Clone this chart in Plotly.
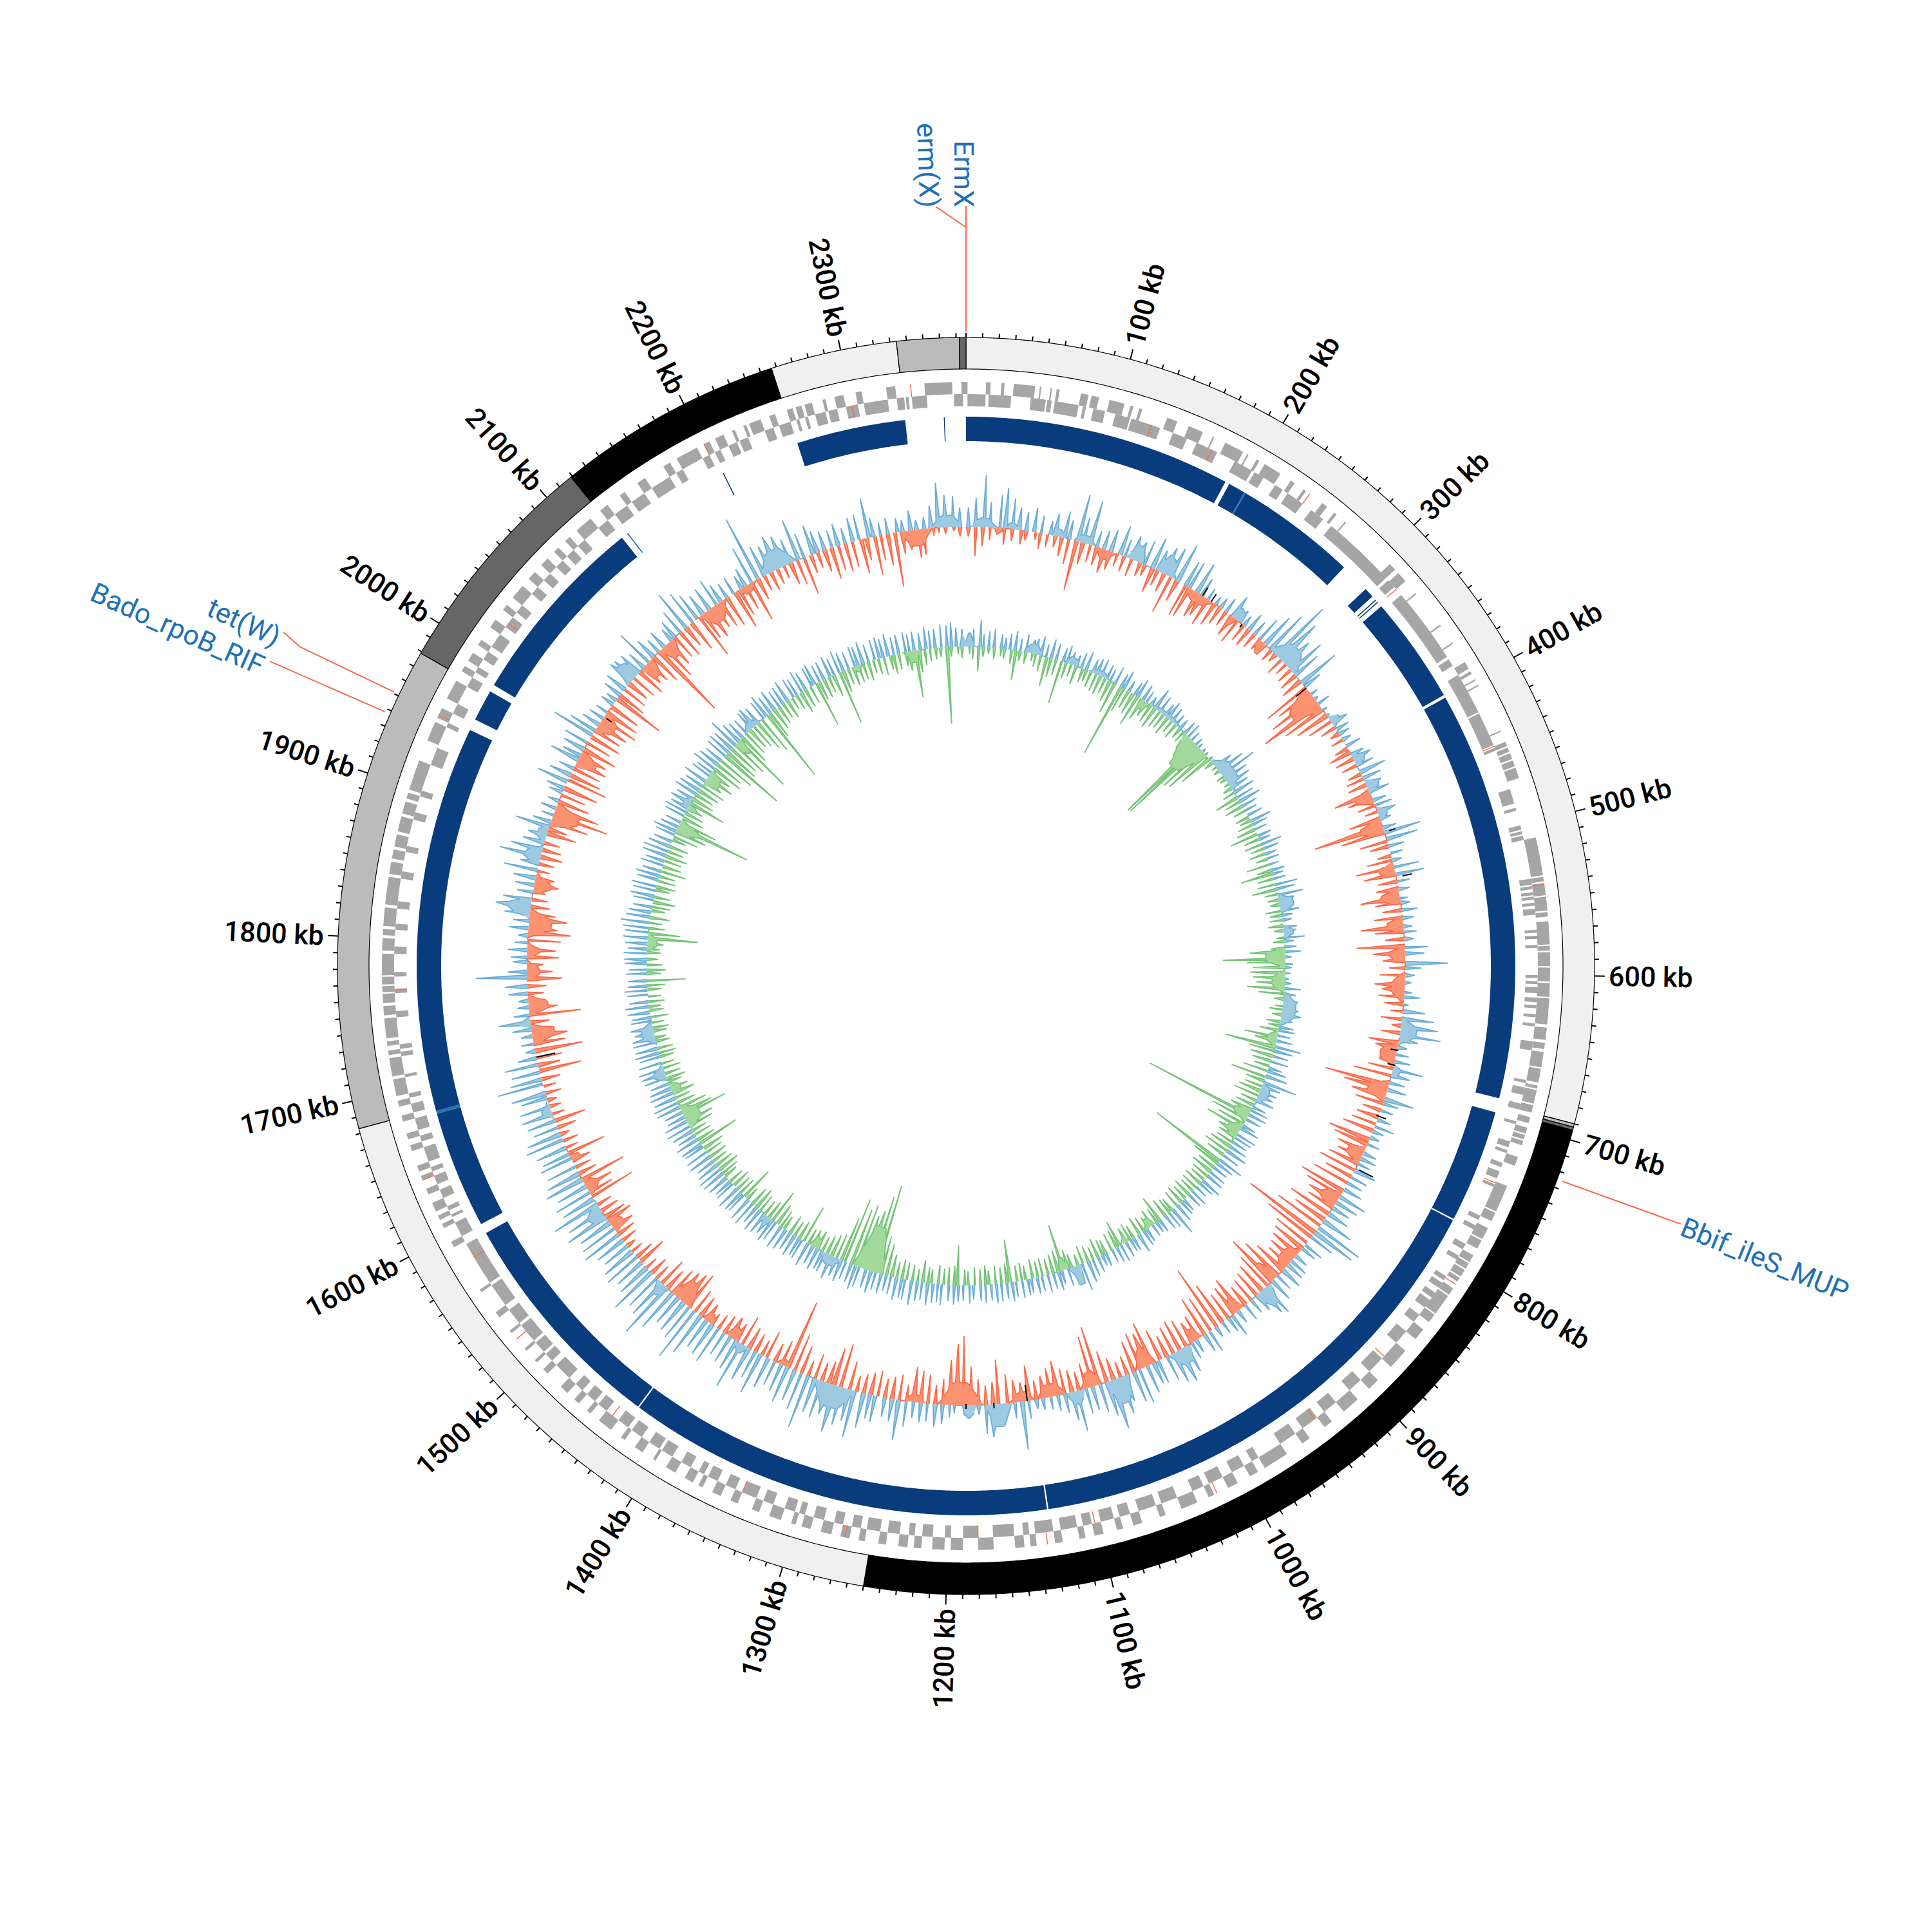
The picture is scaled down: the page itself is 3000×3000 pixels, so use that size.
import math
import plotly.graph_objects as go

GENOME_KB = 2376
BIN_KB = 6.25

# ideogram bands: start kb, end kb, colour
band_start = [0, 690, 692, 694, 1250, 1683, 1979, 2119, 2257, 2334, 2372]
band_end = [690, 692, 694, 1250, 1683, 1979, 2119, 2257, 2334, 2372, 2376]
band_color = ["#f0f0f0", "#bbbbbb", "#666666", "#000000", "#f0f0f0", "#bbbbbb", "#666666", "#000000", "#f0f0f0", "#bbbbbb", "#666666"]

tick_kb = list(range(0, GENOME_KB, 10))
label_kb = list(range(100, 2400, 100))

# conserved segments (dark blue ring)
seg_start = [0, 189, 202, 308, 318, 320, 324, 401, 696, 776, 1132, 1430, 1597, 1681, 1958, 1985, 2202.6, 2258, 2360.7]
seg_end = [186, 201, 287, 315, 318.7, 320.7, 399, 686, 775, 1131, 1429, 1590, 1679, 1950, 1980, 2120, 2203.3, 2334, 2361.3]
seg_thin_start = [2124.5, 201, 1679]
seg_thin_end = [2125.3, 202, 1681]

genes_outer = [(0,1),(13,16),(23,25),(31,45),(48,49),(55,56),(59,61),(75,80),(82,87),(94,104),(108,110),(114,116),(133,140),(148,158),(165,166),(174,187),(190,191),(197,199),(203,215),(223,226),(233,235),(248,252),(258,260),(267,268),(307,312),(315,322),(332,333),(358,359),(372,373),(387,392),(394,396),(400,401),(404,405),(437,438),(445,448),(449,452),(453,457),(458,462),(463,470),
 (510,535),(536,539),(540,548),(549,558),(559,562),(565,580),(581,584),(585,594),(595,604),(605,614),(615,632),(634,636),(636,642),(644,648),(650,660),(661,670),(672,674),(675,684),(685,690),(693,695),(695,697),(700,704),(705,708),(709,712),(720,726),(740,750),(750,758),(759,765),(770,778),(779,785),(790,795),(796,800),(801,806),(807,810),(815,820),(821,835),
 (836,842),(848,856),(866,880),(892,900),(910,922),(932,938),(950,956),(968,985),(990,996),(1005,1012),(1022,1026),(1034,1045),(1056,1060),(1072,1078),(1085,1089),(1098,1104),(1110,1114),(1125,1130),(1142,1146),(1150,1156),(1170,1180),(1190,1198),(1202,1210),(1217,1222),(1226,1232),(1240,1245),
 (1254,1258),(1264,1270),(1276,1283),(1290,1296),(1300,1303),(1310,1318),(1325,1330),(1340,1345),(1352,1358),(1365,1368),(1372,1378),(1385,1392),(1400,1402),(1410,1416),(1424,1427),(1435,1445),(1452,1455),(1462,1466),(1472,1478),(1490,1494),(1500,1502),(1510,1512),(1525,1527),(1538,1542),(1558,1560),(1592,1596),
 (1606,1609),(1612,1615),(1618,1624),(1630,1634),(1640,1643),(1646,1650),(1660,1664),(1668,1672),(1680,1684),(1690,1694),(1697,1700),
 (1700,1708),(1710,1722),(1724,1727),(1730,1733),(1735,1748),(1750,1756),(1758,1764),(1765,1769),(1770,1775),(1776,1790),(1792,1800),(1802,1806),(1808,1820),(1822,1840),(1842,1850),(1852,1858),(1860,1868),(1870,1880),(1882,1890),(1892,1896),(1898,1918),(1932,1945),
 (1948,1955),(1962,1975),(1982,1986),(1990,1996),(2002,2006),(2016,2022),(2030,2034),(2040,2050),(2056,2062),(2068,2074),(2080,2084),(2090,2094),(2100,2112),(2120,2126),(2136,2140),(2150,2156),(2170,2175),(2180,2195),(2200,2204),(2208,2214),(2220,2222),(2228,2230),(2232,2240),(2246,2250),(2258,2262),(2264,2268),(2270,2275),(2282,2284),(2290,2296),(2304,2308),(2324,2330),(2349,2367),(2373,2376)]

genes_inner = [(1,13),(15,30),(43,53),(54,57),(59,75),(78,80),(85,93),(100,110),(111,131),(140,150),(157,172),(185,198),(200,207),(216,222),(226,238),(245,255),(262,312),(314,320),(327,378),(380,385),(392,400),(400,420),(421,442),(442,444),(446,448),(475,485),(488,490),(500,503),(504,506),(507,510),(536,540),(541,543),(545,547),(548,550),(552,554),(556,560),(570,572),(574,576),(580,582),(600,602),(604,606),(608,612),(615,618),(620,622),(626,628),(632,634),(644,650),(670,672),(675,680),(686,690),(698,700),(712,716),(718,720),(727,730),(733,738),(742,744),(765,768),(772,775),(786,790),(795,798),(811,814),(816,820),(824,828),(830,836),
 (842,848),(856,866),(880,892),(900,910),(922,932),(938,950),(956,968),(985,990),(996,1005),(1012,1022),(1026,1034),(1045,1056),(1060,1072),(1078,1085),(1089,1098),(1104,1110),(1114,1125),(1130,1142),(1146,1150),(1156,1170),(1180,1190),(1198,1202),(1210,1217),(1222,1226),(1232,1240),(1245,1254),
 (1258,1264),(1270,1276),(1283,1290),(1296,1300),(1303,1310),(1318,1325),(1330,1340),(1345,1352),(1358,1365),(1368,1372),(1378,1385),(1392,1400),(1402,1410),(1416,1424),(1427,1435),(1445,1452),(1455,1462),(1466,1472),(1478,1490),(1494,1500),(1502,1510),(1512,1525),(1527,1538),(1542,1558),(1560,1590),(1596,1604),
 (1604,1606),(1610,1612),(1615,1618),(1624,1630),(1634,1640),(1643,1646),(1650,1660),(1664,1668),(1672,1680),(1684,1690),(1694,1697),(1708,1710),(1722,1725),(1727,1730),(1748,1752),(1764,1767),(1775,1778),(1790,1795),(1806,1810),(1820,1825),(1840,1845),(1858,1862),(1880,1885),(1896,1900),(1918,1930),
 (1945,1948),(1955,1962),(1975,1982),(1986,1990),(1996,2002),(2006,2016),(2022,2030),(2034,2040),(2050,2056),(2062,2068),(2074,2080),(2084,2090),(2094,2100),(2112,2120),(2126,2136),(2140,2150),(2156,2170),(2175,2180),(2195,2200),(2204,2208),(2214,2220),(2222,2228),(2240,2246),(2250,2258),(2262,2264),(2268,2270),(2275,2282),(2284,2290),(2296,2304),(2308,2324),(2330,2335),(2336,2338),(2340,2350),(2368,2374)]

gene_red_kb = [125, 168, 238, 322, 445, 541, 575, 741, 812, 878, 940, 1020, 1102, 1135, 1180, 1267, 1340, 1440, 1520, 1580, 1640, 1766, 1950, 2025, 2200, 2300, 2340]
gene_red_lane = [1, 1, 0, 1, 1, 0, 1, 1, 0, 1, 1, 0, 1, 0, 1, 0, 1, 1, 0, 1, 0, 1, 0, 1, 0, 1, 0]

# skew track, spike heights per 6.25 kb bin (24 rows of 100 kb)
skew_out = [
30,45,81,40,52,63,48,35,30,38,28,22,35,42,30,74,
40,70,25,30,35,47,28,38,33,40,51,35,45,50,63,42,
45,51,30,20,14,18,25,38,22,18,30,25,40,55,70,101,
75,50,61,45,67,30,12,6,20,8,5,27,22,18,15,25,
22,30,28,43,30,25,33,22,28,30,18,22,58,50,25,20,
15,40,45,20,18,12,15,25,18,14,20,15,36,30,67,25,
15,10,12,25,8,35,50,58,64,30,15,20,25,48,30,25,
30,47,25,20,22,32,18,15,20,22,26,20,35,28,25,30,
46,38,30,35,51,77,71,40,32,25,22,29,30,35,28,38,
52,45,30,25,28,22,37,25,20,18,36,30,22,28,45,55,
50,40,37,35,45,56,50,42,60,79,55,45,38,40,64,45,
30,25,20,18,15,28,75,25,18,22,51,45,15,12,10,12,
20,30,35,28,30,25,40,63,35,30,42,38,55,74,50,60,
75,50,60,55,85,60,50,58,45,40,50,66,45,55,76,50,
45,40,60,55,50,70,88,60,55,50,70,93,65,60,78,55,
50,60,55,45,50,65,60,55,70,60,78,55,60,50,63,55,
48,52,45,50,61,55,40,45,50,48,42,55,72,50,45,53,
30,15,20,18,30,50,25,18,15,30,35,79,30,22,25,30,
20,15,30,25,40,55,45,25,30,35,53,30,65,50,35,30,
54,30,20,25,18,22,30,50,35,25,47,30,35,40,69,45,
30,25,20,22,18,30,35,42,40,38,30,60,35,25,30,22,
30,40,65,56,45,35,38,44,30,25,28,22,30,60,105,50,
45,55,50,40,66,40,47,35,30,28,35,25,38,40,62,30,
20,25,22,18,31,15,18,35,70,50,48,30]

skew_in = [
15,45,30,20,10,25,18,22,15,12,25,20,18,30,40,78,
35,28,30,38,30,20,25,28,22,18,39,25,30,60,35,52,
50,42,35,45,38,30,25,35,40,28,30,25,20,18,21,15,
28,20,25,30,35,76,60,80,103,70,55,40,25,15,20,22,
35,30,25,22,28,30,59,40,28,20,50,111,70,44,30,22,
40,60,50,30,35,62,40,30,45,67,45,30,75,50,35,25,
40,47,35,40,30,20,33,15,30,47,35,20,25,40,60,102,
70,55,45,30,35,40,50,67,55,45,40,50,60,45,60,74,
60,50,45,70,55,80,126,85,60,55,50,45,40,55,70,86,
60,50,45,40,35,58,50,45,70,105,60,65,40,35,45,50,
45,35,50,69,55,60,50,30,25,35,50,93,80,40,30,35,
40,55,45,35,30,55,30,35,45,69,35,30,40,60,108,95,
70,40,30,45,50,55,25,40,35,30,40,35,30,25,45,69,
59,35,30,40,25,45,60,110,40,30,44,25,30,35,48,30,
35,30,25,20,30,35,40,61,55,50,45,35,45,25,30,20,
46,30,20,15,25,30,35,42,35,30,25,72,40,45,73,30,
25,30,61,20,25,15,30,50,20,18,15,25,20,30,66,35,
40,75,50,55,35,30,80,45,20,25,30,55,40,25,50,45,
52,67,45,59,40,30,25,20,38,30,20,25,35,30,25,47,
30,60,88,70,50,40,55,64,50,45,50,45,55,40,50,45,
50,60,55,50,82,45,40,35,40,46,35,40,50,123,60,45,
40,45,35,50,72,45,50,40,45,50,62,45,40,65,35,25,
30,25,20,35,40,60,30,25,35,50,40,45,40,54,35,61,
40,50,85,35,30,44,40,12,8,10,6,15]

gc_out = [
22,28,42,20,25,30,22,18,25,30,20,28,22,25,30,20,
30,25,22,28,20,18,25,30,22,26,28,24,20,28,22,30,
18,22,30,26,20,15,35,28,22,30,25,20,18,22,24,16,
12,8,6,5,6,5,30,45,60,40,38,30,35,28,35,25,
20,25,34,25,20,22,18,33,25,18,20,16,22,18,20,36,
30,41,25,22,29,18,15,22,20,32,15,18,25,10,12,10,
8,6,10,25,18,22,20,25,30,18,22,25,20,25,41,30,
25,28,22,30,35,54,30,28,25,30,22,28,30,25,22,30,
32,28,25,30,35,28,41,30,25,28,30,34,25,20,28,25,
22,25,30,46,28,25,22,18,20,22,25,31,22,20,25,28,
25,20,22,18,25,28,35,44,30,25,28,22,30,25,28,24,
26,22,25,28,24,30,25,28,30,25,28,25,22,28,24,26,
30,25,32,28,30,35,28,30,38,32,30,35,28,25,30,28,
35,30,32,38,30,28,35,30,38,32,30,35,30,38,32,30,
35,30,35,38,32,38,30,35,38,30,40,38,32,35,38,32,
30,35,38,40,35,30,38,36,32,35,38,30,35,40,38,30,
30,38,40,35,38,35,30,36,38,40,36,32,38,35,36,35,
30,35,32,30,35,38,30,32,36,30,30,32,28,34,35,36,
30,35,38,36,40,45,38,35,30,32,38,36,40,34,38,30,
36,30,38,40,35,30,32,38,30,25,32,36,30,35,30,38,
35,30,38,32,28,40,35,30,36,38,35,50,35,30,28,32,
35,30,32,38,30,35,28,30,35,32,28,36,30,32,35,28,
30,34,28,36,30,28,32,30,35,28,32,34,30,35,28,30,
32,28,30,26,34,28,30,36,34,38,30,28]

gc_in = [
12,20,38,15,10,18,12,15,22,46,15,18,12,20,25,46,
30,25,68,25,20,30,22,18,25,28,30,25,35,50,117,40,
30,35,50,35,25,30,35,28,25,30,20,25,18,20,25,15,
147,145,80,75,55,15,8,10,12,10,8,15,20,38,25,30,
20,22,18,25,30,45,25,28,20,25,18,36,22,50,25,28,
38,20,18,15,24,18,20,23,15,12,18,22,55,97,60,50,
55,50,45,58,40,15,12,20,15,22,18,30,52,35,79,40,
35,30,25,40,56,30,28,35,40,25,30,35,173,60,45,60,
35,30,28,35,40,30,122,45,30,35,28,25,30,28,25,30,
25,30,28,22,25,30,42,25,28,20,25,30,22,28,25,42,
30,28,22,25,30,20,25,28,18,22,30,73,35,30,25,28,
25,30,22,28,25,67,30,25,28,22,30,25,28,22,25,62,
30,28,25,30,22,25,35,20,25,28,30,25,35,50,60,140,
120,95,85,100,90,104,70,40,35,30,25,30,28,25,60,30,
25,30,22,28,35,53,30,25,28,35,30,22,53,28,25,30,
25,22,28,35,30,25,30,28,35,66,30,28,25,40,45,72,
50,45,30,25,35,28,22,30,25,28,20,22,28,25,22,18,
22,25,20,28,22,18,25,20,22,28,60,22,30,25,18,22,
20,25,78,50,25,20,30,22,28,35,25,22,30,28,25,40,
30,28,35,25,30,22,40,50,118,60,35,30,25,58,35,30,
35,40,30,45,35,50,45,60,106,55,50,60,96,50,40,35,
40,50,60,117,45,35,30,25,30,20,25,35,30,28,72,30,
30,25,35,84,35,25,30,28,25,30,20,25,28,22,30,25,
22,30,74,35,25,20,18,15,119,15,12,18]

# shaded plateaus: (start kb, end kb, thickness)
skew_out_bands = [(2347,2372,18),(5,25,14),(35,45,10),(75,85,12),(95,112,12),(143,157,25),(170,185,30),(245,255,20),(290,320,30),(366,375,15),(405,415,18),(430,440,20),(455,465,15),(640,660,25),(680,690,12),(900,915,30),(985,1005,25),(1045,1065,40),(1085,1100,20),(1150,1170,35),(1180,1190,20),(1285,1320,35),(1385,1395,15),(1470,1480,20),(1550,1565,25),(1650,1660,15),(1730,1735,20),(1825,1840,35),(1870,1885,25),(1890,1905,15),(2045,2060,30),(2195,2225,30)]
skew_in_bands = [(25,32,8),(115,130,15),(200,225,15),(244,250,15),(277,285,20),(335,358,45),(438,450,25),(465,478,35),(505,515,25),(528,540,30),(552,565,25),(578,590,25),(600,625,20),(662,680,25),(695,712,30),(755,770,25),(800,815,30),(860,885,20),(890,898,35),(930,940,25),(975,985,20),(1020,1035,30),(1070,1085,25),(1102,1125,20),(1130,1148,15),(1175,1210,35),(1225,1240,12),(1345,1355,10),(1395,1405,20),(1420,1430,15),(1445,1465,35),(1535,1550,20),(1575,1590,20),(1608,1614,15),(1715,1730,35),(1740,1755,30),(1770,1785,20),(1790,1800,20),(1808,1830,35),(1845,1860,25),(1905,1925,40),(1960,1975,30),(1995,2015,25),(2062,2075,25),(2085,2100,25),(2130,2155,25),(2170,2185,12),(2320,2345,25)]
gc_out_bands = [(2370,2376,20),(0,8,20),(70,90,15),(120,135,12),(150,175,8),(230,280,6),(330,375,20),(510,530,22),(548,560,15),(625,665,20),(735,760,15),(1050,1060,30),(1340,1365,15),(1435,1445,15),(1645,1660,18),(1690,1715,18),(1975,1990,12),(2090,2110,12)]
gc_in_bands = [(220,230,15),(286,323,50),(572,595,30),(600,625,20),(672,690,15),(770,785,25),(790,810,20),(950,960,15),(985,992,12),(1065,1075,20),(1288,1324,70),(1370,1380,18),(1580,1610,25),(1625,1640,15),(1800,1820,15),(1945,1960,35),(1975,1982,15),(2010,2030,22),(2070,2080,25),(2240,2248,10),(2305,2320,18)]

# short black marks in the skew track (kb, inward offset, outward offset)
mark_kb = [215,224,257,335,477,517,667,680,726,775,1135,1703,2010,1164,1188]
mark_in = [0,0,6,20,-18,-25,10,10,4,-6,25,30,4,2,2]
mark_out = [15,14,0,0,8,10,2,2,12,30,0,0,-14,6,6]

# resistance genes
res_names = ["ErmX", "erm(X)", "Bbif_ileS_MUP", "tet(W)", "Bado_rpoB_RIF"]
res_kb = [2376, 2376, 725, 1951, 1938]
res_end_kb = [2376, 2361, 725, 1954, 1938]
res_label_kb = [2375, 2358, 727, 1950, 1935]
res_label_r = [1230, 1245, 1321, 1242, 1332]
res_label_angle = [90, 88, 22, 25, 24]

# radii, pixels
R_IDEO_OUT, R_IDEO_IN = 976, 927
R_G0, R_G1, R_G2 = 907, 888, 869
R_B0, R_B1 = 853, 815
SKEW_BASE, GC_BASE = 682, 496
R_MAX = 1500
CX, CY = 1500, 1500
W = 3000


def th(k):
    return k * 360.0 / GENOME_KB


def sector(k0, k1, r0, r1):
    n = max(1, int(abs(k1 - k0) / 2))
    ks = [k0 + (k1 - k0) * i / n for i in range(n + 1)]
    t = [th(k) for k in ks]
    return t + t[::-1] + [t[0]], [r1] * (n + 1) + [r0] * (n + 1) + [r1]


def add_sectors(fig, items, r0, r1, color, line=0.0):
    T, R = [], []
    for a, b in items:
        t, r = sector(a, b, r0, r1)
        T += t + [None]
        R += r + [None]
    fig.add_trace(go.Scatterpolar(theta=T, r=R, mode="lines", fill="toself", fillcolor=color,
                                  line=dict(color=color, width=line), hoverinfo="skip"))


def floor_at(bands, k):
    # plateau thickness tapers towards the edges of its band
    for a, b, v in bands:
        if a <= k <= b:
            return v * min(1.0, (min(k - a, b - k) + 1.5) / (0.3 * (b - a) + 1.5))
    return 0.0


def add_track(fig, values, bands, base, sign, fill, stroke):
    T, R = [], []
    ST, SR = [], []
    for i, v in enumerate(values):
        k0 = i * BIN_KB
        # peak placement inside the bin and its base width vary with the read height
        kc = k0 + BIN_KB * (0.5 + ((v * 7) % 5 - 2) * 0.09)
        half = BIN_KB * (0.14 + (v % 4) * 0.05)
        f0, f1, f2 = floor_at(bands, k0), floor_at(bands, kc - half), floor_at(bands, kc + half)
        pts_t = [th(k0), th(kc - half), th(kc), th(kc + half)]
        pts_r = [base + sign * f0, base + sign * f1, base + sign * max(v, f1), base + sign * f2]
        T += pts_t
        R += pts_r
        if f1 > 0 or f2 > 0 or f0 > 0:
            ST += pts_t
            SR += pts_r
        else:
            ST += pts_t[1:] + [None]
            SR += pts_r[1:] + [None]
    T.append(th(GENOME_KB))
    R.append(R[0])
    circle = [th(k) for k in range(GENOME_KB, -1, -6)]
    ft = T + circle + [T[0]]
    fr = R + [base] * len(circle) + [R[0]]
    fig.add_trace(go.Scatterpolar(theta=ft, r=fr, mode="lines", fill="toself", fillcolor=fill,
                                  line=dict(width=0, color=fill), hoverinfo="skip"))
    fig.add_trace(go.Scatterpolar(theta=ST, r=SR, mode="lines", line=dict(color=stroke, width=1.8), hoverinfo="skip"))


fig = go.Figure()

# ideogram
for a, b, c in zip(band_start, band_end, band_color):
    t, r = sector(a, b, R_IDEO_IN, R_IDEO_OUT)
    fig.add_trace(go.Scatterpolar(theta=t, r=r, mode="lines", fill="toself", fillcolor=c,
                                  line=dict(color="#000000", width=1.2), hoverinfo="skip"))

# ticks
T, R = [], []
for k in tick_kb:
    T += [th(k), th(k), None]
    R += [R_IDEO_OUT, R_IDEO_OUT + (16 if k % 100 == 0 and k else 7), None]
fig.add_trace(go.Scatterpolar(theta=T, r=R, mode="lines", line=dict(color="#000000", width=2), hoverinfo="skip"))

# genes
add_sectors(fig, genes_outer, R_G1, R_G0, "#a6a6a6")
add_sectors(fig, genes_inner, R_G2, R_G1, "#a6a6a6")
T, R = [], []
for k, lane in zip(gene_red_kb, gene_red_lane):
    a, b = (R_G1, R_G0) if lane == 0 else (R_G2, R_G1)
    T += [th(k), th(k), None]
    R += [a, b, None]
fig.add_trace(go.Scatterpolar(theta=T, r=R, mode="lines", line=dict(color="#fb6a4a", width=1.5), hoverinfo="skip"))

# conserved segments
add_sectors(fig, list(zip(seg_start, seg_end)), R_B1, R_B0, "#093c7d")
add_sectors(fig, list(zip(seg_thin_start, seg_thin_end)), R_B1, R_B0, "#2171b5")

# data tracks
add_track(fig, skew_out, skew_out_bands, SKEW_BASE, 1, "#9ecae1", "#6baed6")
add_track(fig, skew_in, skew_in_bands, SKEW_BASE, -1, "#fc9272", "#fb6a4a")
add_track(fig, gc_out, gc_out_bands, GC_BASE, 1, "#9ecae1", "#6baed6")
add_track(fig, gc_in, gc_in_bands, GC_BASE, -1, "#a1d99b", "#74c476")

T, R = [], []
for k, a, b in zip(mark_kb, mark_in, mark_out):
    T += [th(k), th(k), None]
    R += [SKEW_BASE - a, SKEW_BASE + b, None]
fig.add_trace(go.Scatterpolar(theta=T, r=R, mode="lines", line=dict(color="#000000", width=2), hoverinfo="skip"))

# resistance connectors
T, R = [], []
for k, e in zip(res_kb, res_end_kb):
    T += [th(k), th(k), th(e), None]
    R += [985, 1147, 1180, None]
fig.add_trace(go.Scatterpolar(theta=T, r=R, mode="lines", line=dict(color="#fb6a4a", width=2), hoverinfo="skip"))


def to_paper(k, r):
    a = math.radians(th(k))
    return (CX + r * math.sin(a)) / W, 1 - (CY - r * math.cos(a)) / W


ann = []
for k in label_kb:
    d = th(k)
    right = d < 180
    length = 141 if k >= 1000 else 118
    r = 1005 + length / 2
    x, y = to_paper(k, r)
    ann.append(dict(x=x, y=y, xref="paper", yref="paper", text=f"{k} kb", showarrow=False,
                    textangle=(d - 90) if right else (d - 270), xanchor="center", yanchor="middle",
                    font=dict(family="Roboto, sans-serif", size=43, weight=500, color="#000000")))
for name, k, r, ang in zip(res_names, res_label_kb, res_label_r, res_label_angle):
    x, y = to_paper(k, r)
    ann.append(dict(x=x, y=y, xref="paper", yref="paper", text=name, showarrow=False, textangle=ang,
                    xanchor="center", yanchor="middle",
                    font=dict(family="Roboto, sans-serif", size=43, color="#2171b5")))

fig.update_layout(
    width=3000, height=3000, autosize=False, showlegend=False,
    margin=dict(l=0, r=0, t=0, b=0), paper_bgcolor="#ffffff", plot_bgcolor="#ffffff",
    polar=dict(domain=dict(x=[0, 1], y=[0, 1]), bgcolor="#ffffff",
               radialaxis=dict(range=[0, R_MAX], visible=False),
               angularaxis=dict(rotation=90, direction="clockwise", visible=False)),
    annotations=ann,
)
fig.write_html("out.html", post_script="document.body.style.margin='0';", config={"displayModeBar": False})
